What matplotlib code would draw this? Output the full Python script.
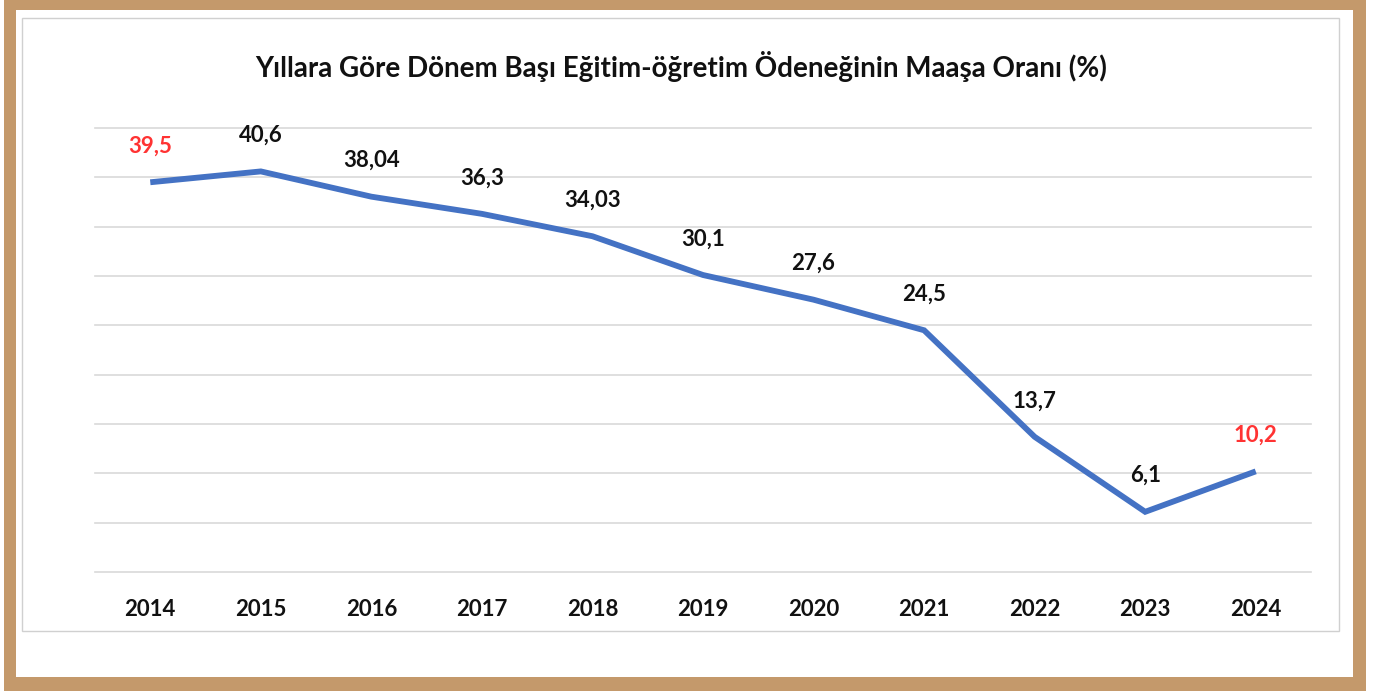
import matplotlib
matplotlib.use("Agg")
import matplotlib.pyplot as plt
from matplotlib.patches import Rectangle

years = ["2014", "2015", "2016", "2017", "2018", "2019", "2020", "2021", "2022", "2023", "2024"]
values = [39.5, 40.6, 38.04, 36.3, 34.03, 30.1, 27.6, 24.5, 13.7, 6.1, 10.2]
labels = ["39,5", "40,6", "38,04", "36,3", "34,03", "30,1", "27,6", "24,5", "13,7", "6,1", "10,2"]
red_labels = {"2014", "2024"}
title = "Yıllara Göre Dönem Başı Eğitim-öğretim Ödeneğinin Maaşa Oranı (%)"

W, H = 1376, 691
fig = plt.figure(figsize=(W / 100, H / 100), dpi=100)
fig.patch.set_facecolor("white")

def px_rect(x0, y0, x1, y1, **kw):
    return Rectangle((x0 / W, 1 - y1 / H), (x1 - x0) / W, (y1 - y0) / H,
                     transform=fig.transFigure, figure=fig, **kw)

fig.patches.append(px_rect(4, 0, 1366, 691, facecolor="#C4996B", edgecolor="none", zorder=0))
fig.patches.append(px_rect(16, 10, 1353, 677, facecolor="white", edgecolor="none", zorder=1))
fig.patches.append(px_rect(22, 18, 1339, 631, facecolor="white", edgecolor="#D0D0D0", linewidth=1, zorder=2))

ax = fig.add_axes([95 / W, 1 - 572 / H, 1216 / W, 444 / H])
ax.set_facecolor("none")
ax.set_zorder(5)
x = list(range(len(years)))
ax.plot(x, values, color="#4472C4", linewidth=4.2, solid_capstyle="butt", solid_joinstyle="miter", zorder=3)
ax.set_xlim(-0.5, len(years) - 0.5)
ax.set_ylim(0, 45)
ax.set_yticks([i * 5 for i in range(10)])
ax.yaxis.grid(True, color="#D9D9D9", linewidth=1.2)
for gl in ax.yaxis.get_gridlines():
    gl.set_clip_on(False)
ax.set_axisbelow(True)
ax.tick_params(axis="y", left=False, labelleft=False)
ax.tick_params(axis="x", bottom=False, pad=16)
ax.set_xticks(x)
ax.set_xticklabels(years, fontfamily="Lato", fontweight="bold", fontsize=16, color="#111111")
for s in ax.spines.values():
    s.set_visible(False)

for xi, v, lab, yr in zip(x, values, labels, years):
    ax.annotate(lab, (xi, v), xytext=(0, 26), textcoords="offset points",
                ha="center", va="center", fontfamily="Lato", fontweight="bold", fontsize=16,
                color="#FF3333" if yr in red_labels else "#111111")

fig.text(681 / W, 1 - 66 / H, title, ha="center", va="center", fontfamily="Lato",
         fontweight="bold", fontsize=20, color="#111111")

fig.savefig("out.png", dpi=100)
